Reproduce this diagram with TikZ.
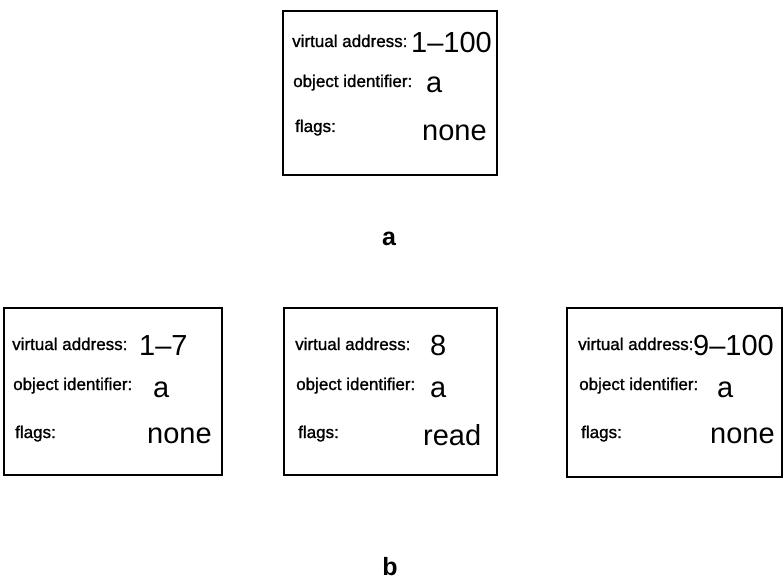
\documentclass[tikz,border=0pt]{standalone}
\usepackage{fontspec}
\setmainfont{Liberation Sans}
\newfontfamily\namefont[FakeBold=1.2]{Liberation Sans}
\begin{document}
\begin{tikzpicture}[x=1pt,y=-1pt,
  regbox/.style={draw=black, line width=2pt, inner sep=0pt},
  fieldname/.style={anchor=base west, inner sep=0pt, font=\namefont\fontsize{17}{17}\selectfont},
  fieldval/.style={anchor=base west, inner sep=0pt, font=\fontsize{29}{29}\selectfont},
  caption/.style={anchor=base, inner sep=0pt, font=\fontsize{25}{25}\selectfont\bfseries}]
\useasboundingbox (0,0) rectangle (784,580);

% (a) one region covering the whole range
\node[regbox, minimum width=214pt, minimum height=164pt] (top) at (390,93) {};
\node[fieldname] (topva)  at (292,47)  {virtual address:};
\node[fieldname] (topoi)  at (293,87)  {object identifier:};
\node[fieldname] (topfl)  at (295,132) {flags:};
\node[fieldval]  (topvav) at (411,53)  {1\textendash100};
\node[fieldval]  (topoiv) at (426,93)  {a};
\node[fieldval]  (topflv) at (422,141) {none};
\node[caption]   (capa)   at (389,245) {a};

% (b) the region split into three parts
\node[regbox, minimum width=218pt, minimum height=167pt] (left) at (113,391.5) {};
\node[fieldname] (lva)  at (12,350) {virtual address:};
\node[fieldname] (loi)  at (13,390) {object identifier:};
\node[fieldname] (lfl)  at (15,438) {flags:};
\node[fieldval]  (lvav) at (139,355) {1\textendash7};
\node[fieldval]  (loiv) at (153,397) {a};
\node[fieldval]  (lflv) at (147,443) {none};

\node[regbox, minimum width=213pt, minimum height=167pt] (mid) at (390.5,391.5) {};
\node[fieldname] (mva)  at (295,350) {virtual address:};
\node[fieldname] (moi)  at (296,390) {object identifier:};
\node[fieldname] (mfl)  at (298,438) {flags:};
\node[fieldval]  (mvav) at (430,355) {8};
\node[fieldval]  (moiv) at (430,397) {a};
\node[fieldval]  (mflv) at (423,445) {read};

\node[regbox, minimum width=215pt, minimum height=169pt] (right) at (674.5,392.5) {};
\node[fieldname] (rva)  at (578,350) {virtual address:};
\node[fieldname] (roi)  at (579,390) {object identifier:};
\node[fieldname] (rfl)  at (581,438) {flags:};
\node[fieldval]  (rvav) at (693,355) {9\textendash100};
\node[fieldval]  (roiv) at (717,397) {a};
\node[fieldval]  (rflv) at (710,443) {none};

\node[caption] (capb) at (390,575) {b};
\end{tikzpicture}
\end{document}
